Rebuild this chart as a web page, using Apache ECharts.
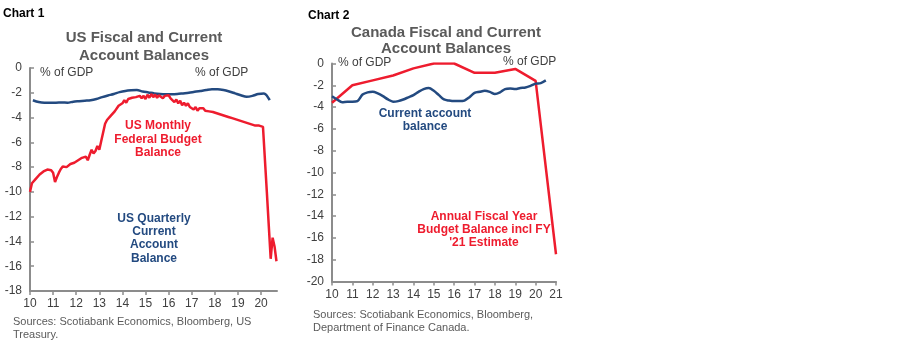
<!DOCTYPE html>
<html><head><meta charset="utf-8">
<script src="https://cdn.jsdelivr.net/npm/echarts/dist/echarts.min.js"></script>
<style>html,body{margin:0;padding:0;background:#fff}#c{width:900px;height:348px}</style>
</head><body><div id="c"></div>
<script>
// ---- Chart 1: US (years as 2-digit numbers, monthly from Jan 2010) ----
var usXTicks = [10,11,12,13,14,15,16,17,18,19,20];
var usBudgetMonthly = [
 -10.0,-9.3,-9.25,-8.95,-8.95,-8.6,-8.6,-8.35,-8.45,-8.2,-8.35,-8.25,
 -8.45,-9.2,-8.8,-8.45,-8.15,-7.95,-8.1,-8.0,-8.05,-7.75,-7.85,-7.65,
 -7.7,-7.45,-7.6,-7.25,-7.35,-7.15,-7.45,-7.0,-6.6,-6.9,-6.7,-6.3,
 -6.6,-5.9,-5.8,-4.5,-4.2,-4.05,-3.85,-3.75,-3.5,-3.4,-3.05,-2.95,
 -2.85,-2.6,-2.8,-2.5,-2.65,-2.4,-2.55,-2.35,-2.5,-2.25,-2.45,-2.25,
 -2.5,-2.15,-2.4,-2.1,-2.35,-2.15,-2.4,-2.2,-2.2,-2.45,-2.25,-2.4,
 -2.2,-2.45,-2.4,-2.75,-2.55,-2.85,-2.65,-3.0,-2.8,-3.05,-2.85,-3.15,
 -3.05,-3.35,-3.15,-3.45,-3.25,-3.4,-3.25,-3.45,-3.3,-3.5,-3.35,-3.55,
 -3.4,-3.65,-3.5,-3.75,-3.6,-3.85,-3.7,-3.95,-3.8,-4.05,-3.9,-4.15,
 -4.05,-4.25,-4.1,-4.35,-4.2,-4.45,-4.3,-4.55,-4.4,-4.65,-4.5,-4.65,
 -4.6,-4.75,-4.8,-10.0,-12.7,-15.4,-13.7,-14.4,-15.6
];
// quarterly Q1 2010 .. Q2 2020
var usCurrentAccountQuarterly = [
 -2.6,-2.75,-2.8,-2.8,-2.8,-2.78,-2.8,-2.72,-2.68,-2.64,-2.6,-2.5,
 -2.35,-2.22,-2.1,-1.95,-1.85,-1.8,-1.78,-1.9,-1.97,-2.05,-2.1,-2.12,
 -2.12,-2.1,-2.05,-2.0,-1.92,-1.85,-1.78,-1.72,-1.72,-1.78,-1.9,-2.05,
 -2.2,-2.32,-2.25,-2.1,-2.05,-2.6
];
var usYTicks = [0,-2,-4,-6,-8,-10,-12,-14,-16,-18];

// ---- Chart 2: Canada ----
var caXTicks = [10,11,12,13,14,15,16,17,18,19,20,21];
var caFiscalYears = [10,11,12,13,14,15,16,17,18,19,20,21];
var caFiscalBalance = [-3.6,-2.0,-1.55,-1.1,-0.45,0.0,0.0,-0.85,-0.85,-0.5,-1.6,-17.5];
// quarterly Q1 2010 .. Q3 2020
var caCurrentAccount = [
 -3.0,-3.3,-3.55,-3.5,-3.5,-3.45,-2.85,-2.65,-2.6,-2.75,-3.0,-3.3,
 -3.5,-3.45,-3.3,-3.1,-2.9,-2.6,-2.35,-2.25,-2.5,-2.9,-3.3,-3.4,
 -3.45,-3.45,-3.4,-3.1,-2.7,-2.6,-2.5,-2.6,-2.8,-2.65,-2.35,-2.3,
 -2.35,-2.25,-2.2,-2.05,-1.85,-1.8,-1.55
];
var caYTicks = [0,-2,-4,-6,-8,-10,-12,-14,-16,-18,-20];

var RED = '#ee1c2e', BLUE = '#234a80', AX = '#8c8c8c', TXT = '#404040', TTL = '#5a5a5a';
var FF = '"Liberation Sans", Arial, sans-serif';

var usBudgetPts = usBudgetMonthly.map(function(v,i){ return [usXTicks[0] + i/12, v]; });
var usCAPts = usCurrentAccountQuarterly.map(function(v,i){ return [usXTicks[0] + 0.125 + i/4, v]; });
var caFiscalPts = caFiscalBalance.map(function(v,i){ return [caFiscalYears[i], v]; });
var caCAPts = caCurrentAccount.map(function(v,i){ return [caXTicks[0] + i/4, v]; });

function xAxis(gi, min, max, ticks){
  return {type:'value', gridIndex:gi, min:min, max:max, interval:1,
    axisLine:{show:true, onZero:false, lineStyle:{color:AX, width:2}},
    axisTick:{show:true, inside:false, length:4, lineStyle:{color:AX, width:1.5}, customValues:ticks},
    axisLabel:{color:TXT, fontFamily:FF, fontSize:12, margin:7, customValues:ticks},
    splitLine:{show:false}};
}
function yAxis(gi, min, ticks){
  return {type:'value', gridIndex:gi, min:min, max:0, interval:2,
    axisLine:{show:true, onZero:false, lineStyle:{color:AX, width:2}},
    axisTick:{show:true, inside:true, length:4, lineStyle:{color:AX, width:1.5}, customValues:ticks},
    axisLabel:{color:TXT, fontFamily:FF, fontSize:12, margin:8, customValues:ticks},
    splitLine:{show:false}};
}
function txt(t, x, y, opts){
  opts = opts || {};
  return {type:'text', z:10, x:x, y:y, style:{text:t, fill:opts.fill||TXT,
    font:(opts.weight||'normal')+' '+(opts.size||12)+'px '+FF, textAlign:opts.align||'left', textVerticalAlign:'middle'}};
}

var chart = echarts.init(document.getElementById('c'), null, {renderer:'canvas'});
chart.setOption({
  animation:false,
  backgroundColor:'#fff',
  grid:[
    {left:30, top:68, width:247, height:223},
    {left:332, top:63.5, width:224, height:218}
  ],
  xAxis:[ xAxis(0, 10, 20.69, usXTicks), xAxis(1, 10, 21, caXTicks) ],
  yAxis:[ yAxis(0, -18, usYTicks), yAxis(1, -20, caYTicks) ],
  series:[
    {type:'line', xAxisIndex:0, yAxisIndex:0, data:usCAPts, showSymbol:false, smooth:0.3,
      lineStyle:{color:BLUE, width:2.5}, z:3},
    {type:'line', xAxisIndex:0, yAxisIndex:0, data:usBudgetPts, showSymbol:false,
      lineStyle:{color:RED, width:2.5}, z:4},
    {type:'line', xAxisIndex:1, yAxisIndex:1, data:caFiscalPts, showSymbol:false,
      lineStyle:{color:RED, width:2.5}, z:3},
    {type:'line', xAxisIndex:1, yAxisIndex:1, data:caCAPts, showSymbol:false, smooth:0.3,
      lineStyle:{color:BLUE, width:2.5}, z:4}
  ],
  graphic:[
    txt('Chart 1', 3, 14, {weight:'bold', size:12, fill:'#000'}),
    txt('US Fiscal and Current', 144, 38, {weight:'bold', size:15, fill:TTL, align:'center'}),
    txt('Account Balances', 144, 56, {weight:'bold', size:15, fill:TTL, align:'center'}),
    txt('% of GDP', 40, 73, {size:12}),
    txt('% of GDP', 195, 73, {size:12}),
    txt('US Monthly', 158, 126, {weight:'bold', size:12, fill:RED, align:'center'}),
    txt('Federal Budget', 158, 140, {weight:'bold', size:12, fill:RED, align:'center'}),
    txt('Balance', 158, 153, {weight:'bold', size:12, fill:RED, align:'center'}),
    txt('US Quarterly', 154, 219, {weight:'bold', size:12, fill:BLUE, align:'center'}),
    txt('Current', 154, 232, {weight:'bold', size:12, fill:BLUE, align:'center'}),
    txt('Account', 154, 245, {weight:'bold', size:12, fill:BLUE, align:'center'}),
    txt('Balance', 154, 259, {weight:'bold', size:12, fill:BLUE, align:'center'}),
    txt('Sources: Scotiabank Economics, Bloomberg, US', 13, 322, {size:11, fill:TTL}),
    txt('Treasury.', 13, 335, {size:11, fill:TTL}),

    txt('Chart 2', 308, 16, {weight:'bold', size:12, fill:'#000'}),
    txt('Canada Fiscal and Current', 446, 33, {weight:'bold', size:15, fill:TTL, align:'center'}),
    txt('Account Balances', 446, 49, {weight:'bold', size:15, fill:TTL, align:'center'}),
    txt('% of GDP', 338, 63, {size:12}),
    txt('% of GDP', 503, 62, {size:12}),
    txt('Current account', 425, 114, {weight:'bold', size:12, fill:BLUE, align:'center'}),
    txt('balance', 425, 127, {weight:'bold', size:12, fill:BLUE, align:'center'}),
    txt('Annual Fiscal Year', 484, 217, {weight:'bold', size:12, fill:RED, align:'center'}),
    txt('Budget Balance incl FY', 484, 230, {weight:'bold', size:12, fill:RED, align:'center'}),
    txt('\'21 Estimate', 484, 243, {weight:'bold', size:12, fill:RED, align:'center'}),
    txt('Sources: Scotiabank Economics, Bloomberg,', 313, 315, {size:11, fill:TTL}),
    txt('Department of Finance Canada.', 313, 328, {size:11, fill:TTL})
  ]
});
</script></body></html>
